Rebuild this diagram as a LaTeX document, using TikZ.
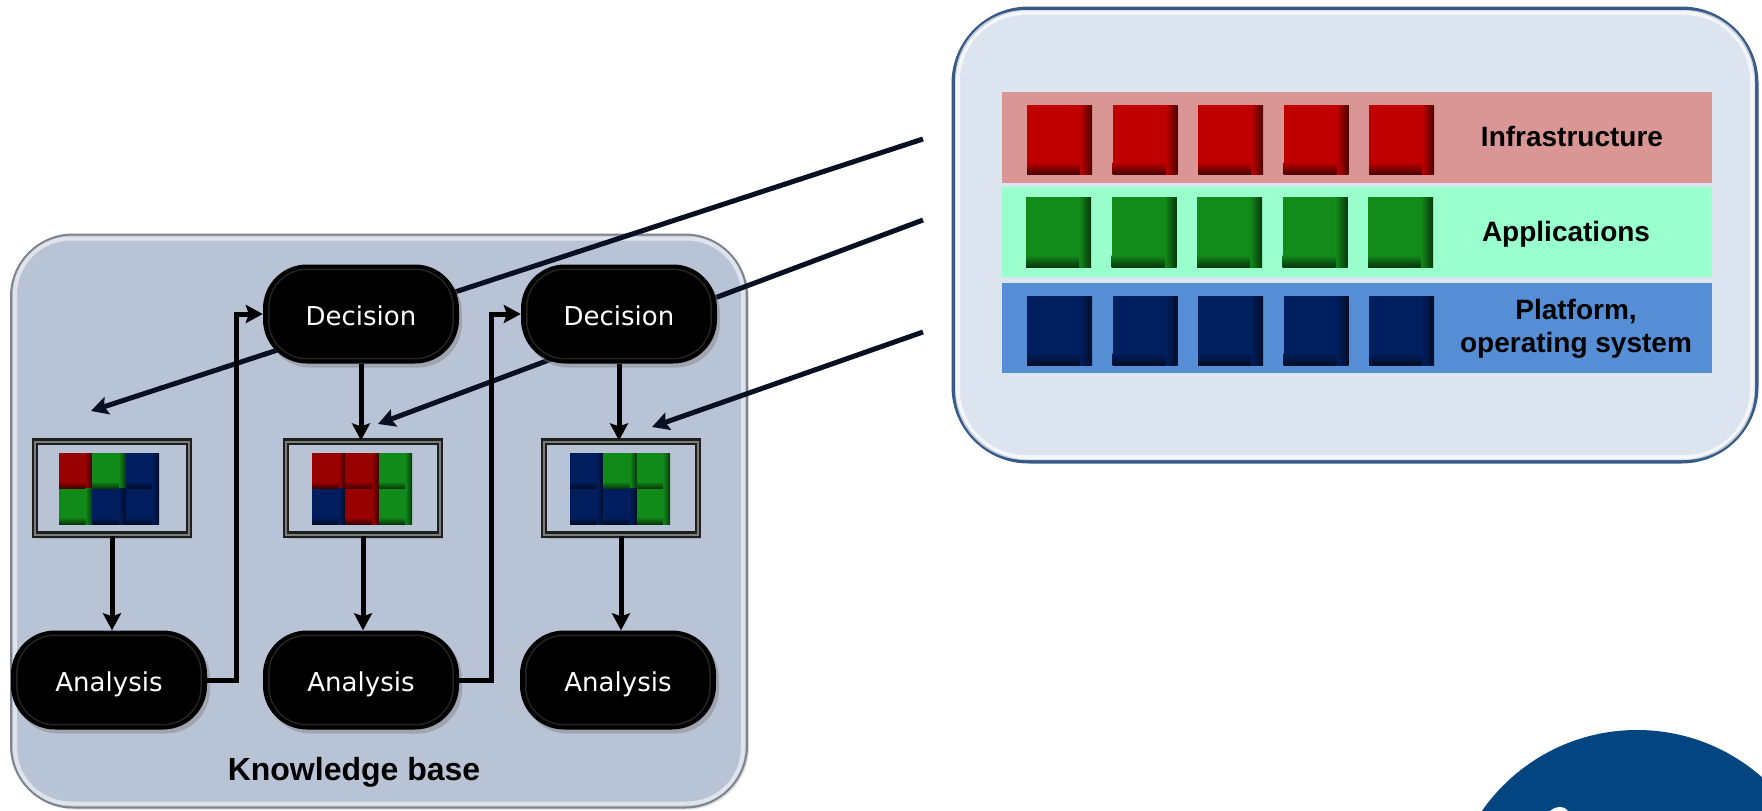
\documentclass[tikz,border=0pt]{standalone}
\usepackage{fontspec}
\setmainfont{Liberation Sans}
\newfontfamily\verd{DejaVu Sans}
\usetikzlibrary{arrows.meta,shadows,calc}

\definecolor{kbfill}{RGB}{185,195,214}
\definecolor{kbborder}{RGB}{128,130,140}
\definecolor{rpfill}{RGB}{220,228,239}
\definecolor{rpborder}{RGB}{55,90,135}
\definecolor{bandred}{RGB}{217,150,148}
\definecolor{bandgreen}{RGB}{153,255,204}
\definecolor{bandblue}{RGB}{85,142,213}
\definecolor{sqred}{RGB}{192,0,0}
\definecolor{sqgreen}{RGB}{19,139,27}
\definecolor{sqblue}{RGB}{0,31,95}
\definecolor{gred}{RGB}{153,0,0}
\definecolor{ggreen}{RGB}{17,138,25}
\definecolor{gblue}{RGB}{0,30,94}
\definecolor{logoblue}{RGB}{3,69,128}
\definecolor{lncol}{RGB}{8,16,34}
\definecolor{frameout}{RGB}{30,30,30}
\definecolor{framein}{RGB}{125,125,125}

% bevelled square: x y w h colour edge
\newcommand\bsq[6]{%
  \fill[#5] ({#1},{#2}) rectangle ++({#3},{#4});
  \shade[left color=#5, right color=#5!40!black] ({#1+#3-#6},{#2}) rectangle ++({#6},{#4});
  \shade[top color=#5, bottom color=#5!40!black] ({#1},{#2+#4-#6}) rectangle ++({#3-#6},{#6});
}
% mini grid: x0 y0 then six colours
\newcommand\minigrid[8]{%
  \bsq{#1}{#2}{33.4}{35.5}{#3}{7}
  \bsq{#1+33.4}{#2}{33.4}{35.5}{#4}{7}
  \bsq{#1+66.8}{#2}{33.4}{35.5}{#5}{7}
  \bsq{#1}{#2+35.5}{33.4}{35.5}{#6}{7}
  \bsq{#1+33.4}{#2+35.5}{33.4}{35.5}{#7}{7}
  \bsq{#1+66.8}{#2+35.5}{33.4}{35.5}{#8}{7}
}

\tikzset{
  blk/.style={fill=black, rounded corners=44pt, minimum width=196pt,
    minimum height=99pt, text=white, text height=25pt, text depth=2pt,
    font=\verd\fontsize{26}{31}\selectfont,
    drop shadow={shadow xshift=3pt, shadow yshift=-4pt, opacity=0.45}},
  gloss/.style={draw=white!14!black, line width=1.5pt, rounded corners=38pt},
  gridbox/.style={draw=frameout, double=framein,
    double distance=2pt, line width=2.2pt, fill=kbfill,
    minimum width=154pt, minimum height=93pt,
    drop shadow={shadow xshift=3pt, shadow yshift=-4pt, opacity=0.3}},
  arr/.style={line width=5pt, -{Stealth[length=17pt,width=18pt,inset=3pt]}},
  longarr/.style={line width=5pt, draw=lncol, -{Stealth[length=17pt,width=18pt,inset=3pt]}},
  lbl/.style={font=\bfseries\fontsize{28}{33}\selectfont, align=center},
}

\begin{document}
\begin{tikzpicture}[x=1pt, y=-1pt]
\useasboundingbox (0,0) rectangle (1762,811);

% ---- logo circle (bottom right)
\begin{scope}
  \clip (0,0) rectangle (1762,811);
  \fill[logoblue] (1637,919) circle (189pt);
  \fill[white] (1550,811) .. controls (1556,806) and (1563,805) .. (1568,811) -- cycle;
\end{scope}

% ---- knowledge base panel
\node[draw=kbborder, line width=2pt, fill=kbfill, rounded corners=62pt,
      minimum width=736pt, minimum height=573pt,
      drop shadow={shadow xshift=2pt, shadow yshift=-2pt, opacity=0.25}]
      (kb) at (379,521) {};
\draw[white, opacity=0.55, line width=4pt, rounded corners=56pt]
      ($(kb.north west)+(5,5)$) rectangle ($(kb.south east)+(-5,-5)$);
\node[font=\bfseries\fontsize{32}{36}\selectfont] (kbl) at (354,772) {Knowledge base};

% ---- right panel
\node[draw=rpborder, line width=4pt, fill=rpfill, rounded corners=75pt,
      minimum width=803pt, minimum height=453pt] (rp) at (1355,235) {};
\draw[white, opacity=0.7, line width=5pt, rounded corners=68pt]
      ($(rp.north west)+(6,6)$) rectangle ($(rp.south east)+(-6,-6)$);

\node[fill=bandred,   minimum width=710pt, minimum height=91pt, inner sep=0] (br) at (1357,137.5) {};
\node[fill=bandgreen, minimum width=710pt, minimum height=90pt, inner sep=0] (bg) at (1357,232) {};
\node[fill=bandblue,  minimum width=710pt, minimum height=90pt, inner sep=0] (bb) at (1357,328) {};

\foreach \xx in {1027,1112.5,1198,1283.5,1369} {
  \bsq{\xx}{105}{65}{69}{sqred}{12}
  \bsq{\xx-1}{197}{65}{70}{sqgreen}{12}
  \bsq{\xx}{296}{65}{69}{sqblue}{12}
}
\node[lbl] (linf) at (1572,136) {Infrastructure};
\node[lbl] (lapp) at (1566,234) {Applications};
\node[lbl] (lplat) at (1576,329) {Platform,\\operating system};

% ---- long connectors (behind decision nodes)
\coordinate (s1) at (923,139);
\coordinate (t1) at (91,411);
\coordinate (s2) at (923,220);
\coordinate (t2) at (378,424);
\coordinate (s3) at (923,332);
\coordinate (t3) at (652,427);
\draw[longarr] (s1) -- (t1);
\draw[longarr] (s2) -- (t2);
\draw[longarr] (s3) -- (t3);

% ---- grid boxes
\node[gridbox] (b1) at (112,488) {};
\node[gridbox] (b2) at (363,488) {};
\node[gridbox] (b3) at (621,488) {};
\minigrid{59}{453}{gred}{ggreen}{gblue}{ggreen}{gblue}{gblue}
\minigrid{312}{453}{gred}{gred}{ggreen}{gblue}{gred}{ggreen}
\minigrid{570}{453}{gblue}{ggreen}{ggreen}{gblue}{gblue}{ggreen}

% ---- black nodes
\node[blk] (d1) at (361,314) {Decision};
\node[blk] (d2) at (619,314) {Decision};
\node[blk] (a1) at (109,680) {Analysis};
\node[blk] (a2) at (361,680) {Analysis};
\node[blk] (a3) at (618,680) {Analysis};
\foreach \n in {d1,d2,a1,a2,a3} {
  \draw[gloss] ($(\n.north west)+(6,5)$) rectangle ($(\n.south east)+(-6,-5)$);
}

% ---- flow arrows
\draw[arr] (d1.south) -- (d1.south |- b2.north);
\draw[arr] (d2.south) -- (d2.south |- b3.north);
\draw[arr] (b1.south) -- (b1.south |- a1.north);
\draw[arr] (b2.south) -- (b2.south |- a2.north);
\draw[arr] (b3.south) -- (b3.south |- a3.north);
\draw[arr] (a1.east) -- ++(29,0) |- (d1.west);
\draw[arr] (a2.east) -- ++(32,0) |- (d2.west);
\end{tikzpicture}
\end{document}
